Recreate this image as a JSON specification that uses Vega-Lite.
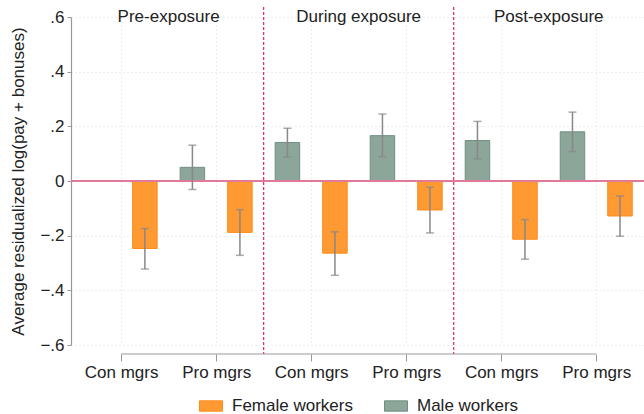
{
  "$schema": "https://vega.github.io/schema/vega-lite/v6.json",
  "width": 573,
  "height": 328,
  "autosize": "none",
  "padding": {"left": 71, "top": 17, "right": 0, "bottom": 69},
  "background": "white",
  "config": {
    "font": "Liberation Sans",
    "view": {"stroke": null},
    "axis": {"labelFont": "Liberation Sans", "titleFont": "Liberation Sans", "labelColor": "#222", "titleColor": "#222"}
  },
  "datasets": {
    "bars": [
      {"pos": 2, "group": "Female workers", "value": -0.247, "lo": -0.322, "hi": -0.174},
      {"pos": 3, "group": "Male workers", "value": 0.050, "lo": -0.031, "hi": 0.131},
      {"pos": 4, "group": "Female workers", "value": -0.188, "lo": -0.272, "hi": -0.105},
      {"pos": 5, "group": "Male workers", "value": 0.141, "lo": 0.088, "hi": 0.193},
      {"pos": 6, "group": "Female workers", "value": -0.264, "lo": -0.345, "hi": -0.186},
      {"pos": 7, "group": "Male workers", "value": 0.166, "lo": 0.089, "hi": 0.245},
      {"pos": 8, "group": "Female workers", "value": -0.106, "lo": -0.190, "hi": -0.023},
      {"pos": 9, "group": "Male workers", "value": 0.148, "lo": 0.081, "hi": 0.218},
      {"pos": 10, "group": "Female workers", "value": -0.213, "lo": -0.286, "hi": -0.141},
      {"pos": 11, "group": "Male workers", "value": 0.180, "lo": 0.108, "hi": 0.252},
      {"pos": 12, "group": "Female workers", "value": -0.128, "lo": -0.202, "hi": -0.055}
    ],
    "periods": [
      {"pos": 2.5, "label": "Pre-exposure"},
      {"pos": 6.5, "label": "During exposure"},
      {"pos": 10.5, "label": "Post-exposure"}
    ],
    "dividers": [
      {"pos": 4.5, "top": 0.637, "bottom": -0.633},
      {"pos": 8.5, "top": 0.637, "bottom": -0.633}
    ],
    "xaxisline": [
      {"start": 1.5, "end": 11.5, "y": -0.633}
    ]
  },
  "layer": [
    {
      "data": {"name": "bars"},
      "mark": {"type": "bar", "width": 24.5, "strokeWidth": 1},
      "encoding": {
        "x": {
          "field": "pos", "type": "quantitative",
          "scale": {"domain": [0.55, 12.4], "nice": false, "zero": false},
          "axis": {
            "values": [1.5, 3.5, 5.5, 7.5, 9.5, 11.5],
            "labelExpr": "datum.value % 4 == 1.5 ? 'Con mgrs' : 'Pro mgrs'",
            "title": null,
            "domain": false,
            "offset": 9,
            "tickSize": 7,
            "tickColor": "#999",
            "tickWidth": 1,
            "labelFontSize": 17,
            "labelPadding": 3,
            "grid": true,
            "gridColor": "#dddddd",
            "gridDash": [1, 3],
            "gridWidth": 1
          }
        },
        "y": {
          "field": "value", "type": "quantitative",
          "scale": {"domain": [-0.6, 0.6], "nice": false},
          "axis": {
            "values": [-0.6, -0.4, -0.2, 0, 0.2, 0.4, 0.6],
            "labelExpr": "datum.value == 0 ? '0' : replace(format(datum.value, '.1f'), '0.', '.')",
            "title": "Average residualized log(pay + bonuses)",
            "titleFontSize": 17,
            "titleFontWeight": "normal",
            "titleX": -53,
            "titleBaseline": "middle",
            "labelFontSize": 17,
            "labelPadding": 3,
            "tickSize": 4,
            "tickColor": "#999",
            "domainColor": "#999",
            "domainWidth": 1.2,
            "grid": true,
            "gridColor": "#dddddd",
            "gridDash": [1, 3],
            "gridWidth": 1
          }
        },
        "y2": {"datum": 0},
        "fill": {
          "field": "group", "type": "nominal",
          "scale": {"domain": ["Female workers", "Male workers"], "range": ["#FF9A33", "#8CA69A"]},
          "legend": {
            "title": null,
            "orient": "none",
            "legendX": 128,
            "legendY": 377,
            "direction": "horizontal",
            "columns": 2,
            "labelFontSize": 17,
            "labelColor": "#222",
            "labelFont": "Liberation Sans",
            "labelOffset": 9,
            "columnPadding": 29,
            "symbolType": "M-1,-0.45L1,-0.45L1,0.45L-1,0.45Z",
            "symbolSize": 529,
            "symbolStrokeWidth": 1,
            "symbolOpacity": 1
          }
        },
        "stroke": {
          "field": "group", "type": "nominal",
          "scale": {"domain": ["Female workers", "Male workers"], "range": ["#FF8A1A", "#6F8F80"]},
          "legend": null
        }
      }
    },
    {
      "data": {"values": [{"z": 0}]},
      "mark": {"type": "rule", "color": "#E07A96", "strokeWidth": 2},
      "encoding": {"y": {"field": "z", "type": "quantitative"}}
    },
    {
      "data": {"name": "bars"},
      "mark": {"type": "rule", "color": "#888888", "strokeWidth": 1.5},
      "encoding": {
        "x": {"field": "pos", "type": "quantitative"},
        "y": {"field": "lo", "type": "quantitative"},
        "y2": {"field": "hi"}
      }
    },
    {
      "data": {"name": "bars"},
      "mark": {"type": "tick", "color": "#888888", "orient": "horizontal", "size": 8, "thickness": 1.5},
      "encoding": {
        "x": {"field": "pos", "type": "quantitative"},
        "y": {"field": "lo", "type": "quantitative"}
      }
    },
    {
      "data": {"name": "bars"},
      "mark": {"type": "tick", "color": "#888888", "orient": "horizontal", "size": 8, "thickness": 1.5},
      "encoding": {
        "x": {"field": "pos", "type": "quantitative"},
        "y": {"field": "hi", "type": "quantitative"}
      }
    },
    {
      "data": {"name": "dividers"},
      "mark": {"type": "rule", "color": "#E3265A", "strokeWidth": 1.2, "strokeDash": [3, 2]},
      "encoding": {
        "x": {"field": "pos", "type": "quantitative"},
        "y": {"field": "top", "type": "quantitative"},
        "y2": {"field": "bottom"}
      }
    },
    {
      "data": {"name": "xaxisline"},
      "mark": {"type": "rule", "color": "#999999", "strokeWidth": 1.2},
      "encoding": {
        "x": {"field": "start", "type": "quantitative"},
        "x2": {"field": "end"},
        "y": {"field": "y", "type": "quantitative"}
      }
    },
    {
      "data": {"name": "periods"},
      "mark": {"type": "text", "fontSize": 17, "baseline": "middle", "align": "center", "color": "#222", "font": "Liberation Sans"},
      "encoding": {
        "x": {"field": "pos", "type": "quantitative"},
        "y": {"datum": 0.6},
        "text": {"field": "label"}
      }
    }
  ]
}
